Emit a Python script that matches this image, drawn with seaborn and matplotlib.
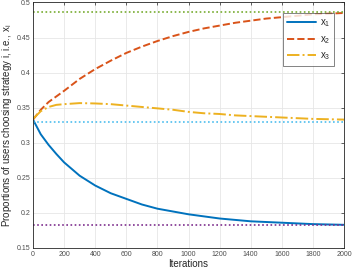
import numpy as np
import pandas as pd
import seaborn as sns
import matplotlib
matplotlib.use("Agg")
import matplotlib.pyplot as plt
from matplotlib.ticker import FuncFormatter

iterations = [0, 50, 100, 150, 200, 300, 400, 500, 600, 700, 800, 900, 1000, 1100, 1200,
              1300, 1400, 1500, 1600, 1700, 1800, 1900, 2000]
x1 = [0.333, 0.312, 0.297, 0.284, 0.272, 0.253, 0.239, 0.228, 0.220, 0.212, 0.206, 0.202,
      0.198, 0.195, 0.192, 0.190, 0.188, 0.187, 0.186, 0.185, 0.184, 0.1835, 0.183]
x2 = [0.333, 0.347, 0.358, 0.366, 0.374, 0.391, 0.405, 0.417, 0.428, 0.437, 0.445, 0.452,
      0.458, 0.463, 0.467, 0.471, 0.474, 0.477, 0.479, 0.481, 0.483, 0.484, 0.485]
x3 = [0.334, 0.345, 0.351, 0.354, 0.355, 0.3565, 0.356, 0.355, 0.353, 0.351, 0.349, 0.347,
      0.344, 0.342, 0.341, 0.339, 0.338, 0.337, 0.336, 0.335, 0.334, 0.3335, 0.333]
equilibria = [0.183, 0.330, 0.486]
labels = ["x$_1$", "x$_2$", "x$_3$"]

sns.set_theme(style="whitegrid")
plt.rcParams['font.family'] = ['Liberation Sans', 'DejaVu Sans']
plt.rcParams['mathtext.fontset'] = 'custom'
plt.rcParams['mathtext.rm'] = 'Liberation Sans'
plt.rcParams['mathtext.it'] = 'Liberation Sans'

df = pd.DataFrame({"Iterations": iterations, labels[0]: x1, labels[1]: x2, labels[2]: x3})
long = df.melt("Iterations", var_name="series", value_name="value")

fig = plt.figure(figsize=(3.53, 2.71), dpi=100)
ax = fig.add_axes([0.0935, 0.085, 0.881, 0.906])

colors = ["#0072BD", "#D95319", "#EDB120"]
styles = ["-", "--", "-."]
for lab, c, ls in zip(labels, colors, styles):
    sub = long[long.series == lab]
    sns.lineplot(data=sub, x="Iterations", y="value", ax=ax, color=c, linestyle=ls,
                 linewidth=1.4, label=lab)

for val, c in zip(equilibria, ["#7E2F8E", "#4DBEEE", "#77AC30"]):
    ax.axhline(val, color=c, linestyle=(0, (1, 1.5)), linewidth=1.2)

ax.set_xlim(0, 2000)
ax.set_ylim(0.15, 0.5)
ax.set_xticks(np.arange(0, 2001, 200))
ax.set_yticks(np.arange(0.15, 0.501, 0.05))
ax.yaxis.set_major_formatter(FuncFormatter(lambda v, p: f"{v:.2f}".rstrip("0").rstrip(".")))
ax.set_facecolor("white")
ax.grid(True, color="#e6e6e6", linewidth=0.6)
for s in ax.spines.values():
    s.set_color("#262626")
    s.set_linewidth(0.6)
    s.set_visible(True)
ax.tick_params(axis="both", direction="in", length=2.5, width=0.5, labelsize=5,
               colors="#262626", labelcolor="#4d4d4d", top=True, right=True, pad=2)
ax.set_xlabel("Iterations", fontsize=7, labelpad=1, color="#262626")
ax.set_ylabel("Proportions of users choosing strategy i, i.e., x$_i$", fontsize=7,
              labelpad=2, color="#262626")

leg = ax.legend(loc="upper right", bbox_to_anchor=(0.984, 0.975), fontsize=7,
                frameon=True, fancybox=False, handlelength=3.0, borderpad=0.4,
                labelspacing=0.5, handletextpad=0.4)
leg.get_frame().set_edgecolor("#262626")
leg.get_frame().set_linewidth(0.5)

fig.savefig("out.png", dpi=100)
